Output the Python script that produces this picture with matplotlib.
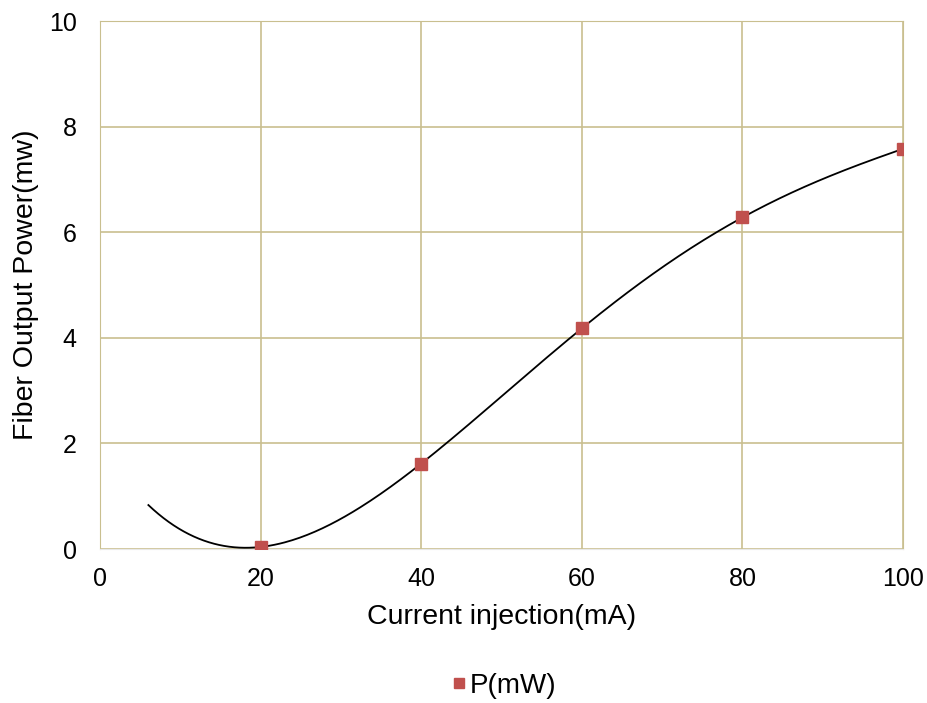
import numpy as np
import matplotlib
matplotlib.use('Agg')
import matplotlib.pyplot as plt

# data
current = [20, 40, 60, 80, 100]
power = [0.04, 1.62, 4.18, 6.28, 7.58]
trend_start = 6  # trendline forecast back to here
trend_order = 4  # polynomial trendline order

plt.rcParams['font.family'] = ['Liberation Sans', 'DejaVu Sans']

fig = plt.figure(figsize=(9.28, 7.03), dpi=100)
ax = fig.add_axes([0.108, 0.219, 0.865, 0.751])

# polynomial trendline, like the spreadsheet one
coef = np.polyfit(current, power, trend_order)
xs = np.linspace(trend_start, max(current), 300)
ax.plot(xs, np.polyval(coef, xs), color='black', linewidth=1.3, zorder=3)

ax.plot(current, power, 's', color='#c0504d', markersize=9, label='P(mW)', zorder=4)

ax.set_xlim(0, 100)
ax.set_ylim(0, 10)
ax.set_xticks([0, 20, 40, 60, 80, 100])
ax.set_yticks([0, 2, 4, 6, 8, 10])
ax.grid(True, color='#c9bf8f', linewidth=1.2)
ax.set_axisbelow(True)
for s in ['top', 'left', 'right']:
    ax.spines[s].set_color('#c9bf8f')
ax.spines['bottom'].set_color('#e8e8e8')
ax.tick_params(length=0, labelsize=18)
ax.tick_params(axis='x', pad=13)
ax.tick_params(axis='y', pad=17)

ax.set_xlabel('Current injection(mA)', fontsize=20.5, labelpad=9)
ax.set_ylabel('Fiber Output Power(mw)', fontsize=20.5, labelpad=7)

fig.legend(loc='center', bbox_to_anchor=(0.541, 0.024), frameon=False,
           fontsize=20, handlelength=0.8, handletextpad=0.0, markerscale=0.8)

fig.savefig('out.png', dpi=100)
